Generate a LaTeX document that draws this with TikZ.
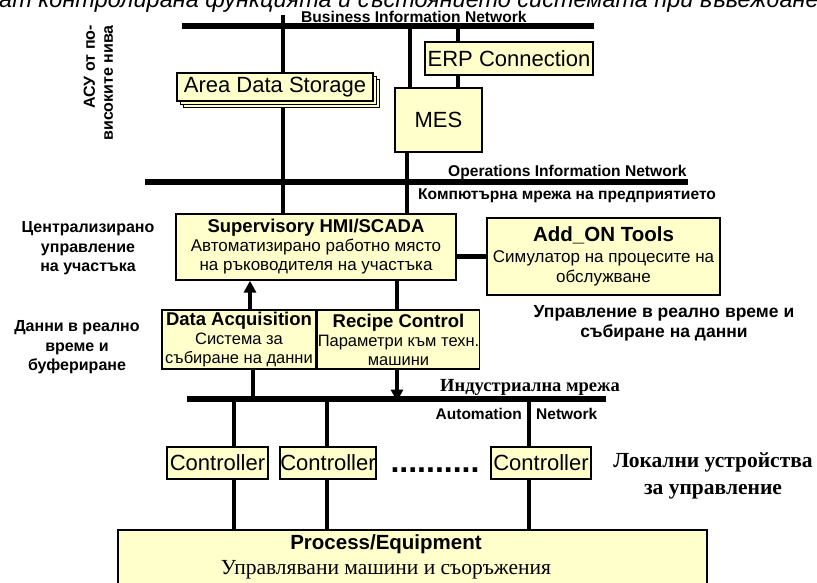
\documentclass[tikz,border=0pt]{standalone}
\usepackage{fontspec}
\setmainfont{Liberation Sans}
\newfontfamily\tnr{Liberation Serif}
\usetikzlibrary{arrows.meta,backgrounds}
\definecolor{boxfill}{HTML}{FFFFCC}
\newcommand\fsz[2]{\fontsize{#1}{#2}\selectfont}
\tikzset{
  box/.style={draw=black, line width=1.3pt, fill=boxfill, inner sep=0pt, align=center},
  bus/.style={line width=5.5pt},
  link/.style={line width=4.5pt},
  netlbl/.style={inner sep=0pt, anchor=base west, font=\bfseries\fsz{15.6}{19}},
  sidelbl/.style={inner sep=0pt, anchor=north, align=center, font=\bfseries\fsz{16}{19.5}},
  upar/.style={link, -{Triangle[length=12pt,width=12pt]}},
  big/.style={font=\fsz{22}{26}}
}
\begin{document}
\begin{tikzpicture}[x=1pt,y=-1pt]
\useasboundingbox (0,0) rectangle (817,583);

% cut-off heading
\node[anchor=base west, inner sep=0pt, font=\itshape\fsz{23.5}{30}] (head) at (-1,7.5)
  {ат контролирана функцията и състоянието системата при въвеждане};

% network labels
\node[netlbl] (bin) at (301,23) {Business Information Network};
\node[netlbl] (oin) at (448,177) {Operations Information Network};
\node[netlbl] (kmp) at (418,200) {Компютърна мрежа на предприятието};
\node[inner sep=0pt, anchor=base west, font=\tnr\bfseries\fsz{18.5}{22}] (ind) at (440,391) {Индустриална мрежа};
\node[inner sep=0pt, anchor=base east, font=\bfseries\fsz{15.5}{18}] (autA) at (522,419) {Automation};
\node[inner sep=0pt, anchor=base west, font=\bfseries\fsz{15.5}{18}] (autN) at (536,419) {Network};

% side labels
\node[inner sep=0pt, anchor=north east, rotate=90, align=right, font=\bfseries\fsz{16}{18}] (asu) at (83.5,25)
  {АСУ от по-\\високите нива};
\node[sidelbl] (centr) at (88,221.5) {Централизирано\\управление\\на участъка};
\node[sidelbl] (dann) at (77,320.5) {Данни в реално\\време и\\буфериране};
\node[sidelbl, font=\bfseries\fsz{17.5}{20}] (uprav) at (664,305.5) {Управление в реално време и\\събиране на данни};
\node[inner sep=0pt, anchor=north, align=center, font=\tnr\bfseries\fsz{21.5}{27}] (lok) at (713,452)
  {Локални устройства\\за управление};

% boxes
\node[box, minimum width=168, minimum height=33, big] (erp) at (509,58.5) {ERP Connection};
\node[box, minimum width=87, minimum height=64, big] (mes) at (438.5,120) {MES};
\node[box, minimum width=196, minimum height=28] (ads3) at (281.7,93.7) {};
\node[box, minimum width=196, minimum height=28] (ads2) at (278.3,90.3) {};
\node[box, minimum width=196, minimum height=28, big] (ads) at (275,87) {Area Data Storage};

\node[box, minimum width=280, minimum height=66, font=\fsz{17}{19}] (scada) at (316,247)
  {{\bfseries\fsz{18.5}{19}Supervisory HMI/SCADA}\\Автоматизирано работно място\\на ръководителя на участъка};
\node[box, minimum width=233, minimum height=77, font=\fsz{17}{20.5}] (addon) at (603.5,256.5)
  {{\bfseries\fsz{20.5}{20.5}Add\_ON Tools}\\Симулатор на процесите на\\обслужване};
\node[box, minimum width=154, minimum height=59, font=\fsz{16.5}{19}] (daq) at (239,339.5)
  {{\bfseries\fsz{18.5}{19}Data Acquisition}\\Система за\\събиране на данни};
\node[box, minimum width=159, minimum height=59, font=\fsz{16.5}{19}] (rec) at (398.5,339.5)
  {{\bfseries\fsz{18.5}{19}Recipe Control}\\Параметри към техн.\\машини};

\node[box, minimum width=101, minimum height=32, big] (c1) at (217.5,463) {Controller};
\node[box, minimum width=96, minimum height=32, big] (c2) at (328,463) {Controller};
\node[box, minimum width=100, minimum height=32, big] (c3) at (541,463) {Controller};
\node[inner sep=0pt, anchor=base, font=\bfseries\fsz{32}{32}] (dots) at (435,472) {..........};

\node[box, minimum width=589, minimum height=80] (proc) at (412.5,570) {};
\node[inner sep=0pt, anchor=base, font=\bfseries\fsz{20.5}{24}] (procT) at (386,549) {Process/Equipment};
\node[inner sep=0pt, anchor=base, font=\tnr\fsz{21.5}{24}] (procS) at (386,574) {Управлявани машини и съоръжения};

% connectors
\begin{scope}[on background layer]
  \coordinate (bi1) at (182,26); \coordinate (bi2) at (594,26);
  \draw[bus] (bi1) -- (bi2);
  \coordinate (oi1) at (145,182); \coordinate (oi2) at (688,182);
  \draw[bus] (oi1) -- (oi2);
  \coordinate (an1) at (187,399); \coordinate (an2) at (606,399);
  \draw[bus] (an1) -- (an2);

  \coordinate (vads) at (283,15);
  \draw[link] (vads) -- (vads |- scada.north);
  \coordinate (vmes) at (410,26);
  \draw[link] (vmes) -- (vmes |- mes.north);
  \coordinate (verp) at (458,26);
  \draw[link] (verp) -- (verp |- erp.north);
  \draw[link] (erp.south -| verp) -- (verp |- mes.north);
  \coordinate (vms) at (407,0);
  \draw[link] (mes.south -| vms) -- (scada.north -| vms);
  \draw[link] (scada.east |- addon.west) -- (addon.west);
  \coordinate (vrec) at (397,0);
  \draw[link] (scada.south -| vrec) -- (rec.north -| vrec);
  \coordinate (vdq) at (253,0);
  \draw[link] (daq.south -| vdq) -- (an1 -| vdq);
  \coordinate (k1) at (234,399); \coordinate (k2) at (327,399); \coordinate (k3) at (529,399);
  \draw[link] (k1) -- (k1 |- proc.north);
  \draw[link] (k2) -- (k2 |- proc.north);
  \draw[link] (k3) -- (k3 |- proc.north);
\end{scope}
\coordinate (vaq) at (250,0);
\draw[upar] (daq.north -| vaq) -- (scada.south -| vaq);
\draw[upar] (rec.south -| vrec) -- ([yshift=-2.5pt]an1 -| vrec);
\end{tikzpicture}
\end{document}
